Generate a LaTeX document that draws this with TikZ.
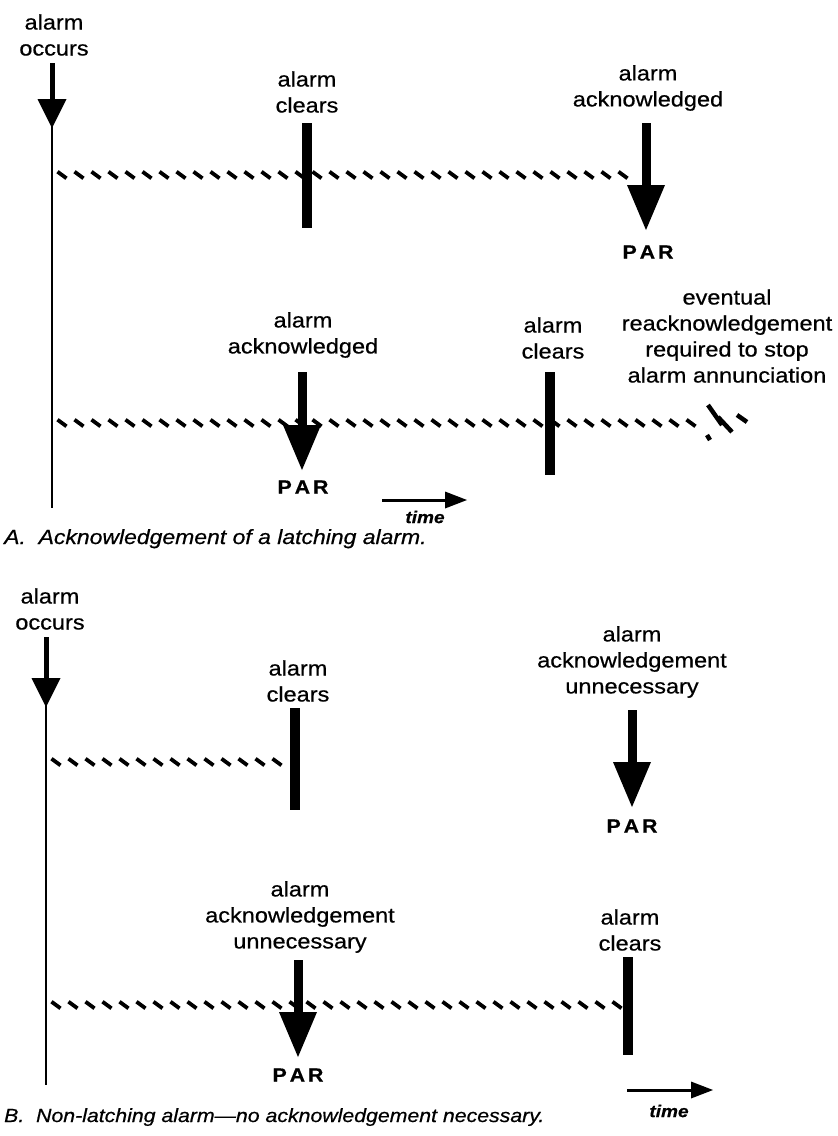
\documentclass[tikz,border=0pt]{standalone}
\usepackage{fontspec}
\setmainfont{Liberation Sans}[FakeStretch=1.12,FakeBold=0.6]
\usetikzlibrary{arrows.meta,decorations.markings,calc}
\begin{document}
\begin{tikzpicture}[x=1pt,y=-1pt,
 lbl/.style={align=center,font=\fontsize{21}{26}\selectfont,inner sep=0pt},
 parlbl/.style={font=\fontsize{19}{22}\selectfont\bfseries,inner sep=0pt},
 capt/.style={anchor=base west,inner sep=0pt},
 tlbl/.style={font=\fontsize{17}{20}\selectfont\bfseries\itshape,inner sep=0pt},
 mainline/.style={line width=2pt},
 occarrow/.style={line width=5pt,-{Triangle[width=29pt,length=29pt,line width=0pt]}},
 bigarrow/.style={line width=9pt,-{Triangle[width=38pt,length=45pt,line width=0pt]}},
 clearbar/.style={line width=10pt},
 hatch/.style={postaction={decorate},decoration={markings,
   mark=between positions 10pt and -4pt step 17pt with {\draw[line width=3.8pt] (-4.5pt,3.3pt) -- (4.5pt,-3.3pt);}}},
 endmark/.style={line width=4.5pt},
 timearrow/.style={line width=3pt,-{Triangle[width=17pt,length=22pt,line width=0pt]}},
]
\useasboundingbox (0,0) rectangle (838,1136);

% ---------------- Part A ----------------
\node[lbl] (occA) at (54,35) {alarm\\occurs};
\coordinate (occAs) at (52,63);
\coordinate (occAt) at (52,128);
\coordinate (occAb) at (52,99);
\coordinate (lineAend) at (52,508);
\draw[mainline] (occAb) -- (lineAend);
\draw[occarrow] (occAs) -- (occAt);

% row A1
\node[lbl] (clrA1) at (307,92) {alarm\\clears};
\coordinate (clrA1t) at (307,123);
\coordinate (clrA1b) at (307,228);
\draw[clearbar] (clrA1t) -- (clrA1b);

\node[lbl] (ackA1) at (648,88) {alarm\\acknowledged};
\coordinate (ackA1s) at (646,123);
\coordinate (ackA1t) at (646,230);
\node[parlbl] (parA1) at (648,252) {P\kern3pt A\kern3pt R};
\coordinate (hA1s) at (52,175);
\coordinate (hA1e) at (641,175);
\path[hatch] (hA1s) -- (hA1e);
\draw[bigarrow] (ackA1s) -- (ackA1t);

% row A2
\node[lbl] (ackA2) at (303,335) {alarm\\acknowledged};
\coordinate (ackA2s) at (302,372);
\coordinate (ackA2t) at (302,470);
\node[parlbl] (parA2) at (303,487) {P\kern3pt A\kern3pt R};

\node[lbl] (clrA2) at (553,338) {alarm\\clears};
\coordinate (clrA2t) at (550,372);
\coordinate (clrA2b) at (550,475);

\node[lbl] (evtA2) at (727,336) {eventual\\reacknowledgement\\required to stop\\alarm annunciation};
\coordinate (hA2s) at (52,423);
\coordinate (hA2e) at (702,423);
\path[hatch] (hA2s) -- (hA2e);
\draw[clearbar] (clrA2t) -- (clrA2b);
\draw[bigarrow] (ackA2s) -- (ackA2t);
% frayed end of the hatching
\draw[endmark] ($(hA2e)+(6,-18)$) -- ($(hA2e)+(20,2)$);
\draw[endmark] ($(hA2e)+(16,-6)$) -- ($(hA2e)+(30,9)$);
\draw[endmark] ($(hA2e)+(35,-8)$) -- ($(hA2e)+(45,-1)$);
\draw[endmark] ($(hA2e)+(5,12)$) -- ($(hA2e)+(8,17)$);

% time arrow A
\coordinate (tAs) at (382,500);
\coordinate (tAe) at (467,500);
\draw[timearrow] (tAs) -- (tAe);
\node[tlbl] (timeA) at (425,517) {time};

\node[capt,font=\fontsize{20.5}{24}\selectfont\itshape] (capA) at (4,544) {A.\ \ Acknowledgement of a latching alarm.};

% ---------------- Part B ----------------
\node[lbl] (occB) at (50,609) {alarm\\occurs};
\coordinate (occBs) at (46,637);
\coordinate (occBt) at (46,707);
\coordinate (occBb) at (46,678);
\coordinate (lineBend) at (46,1085);
\draw[mainline] (occBb) -- (lineBend);
\draw[occarrow] (occBs) -- (occBt);

% row B1
\node[lbl] (clrB1) at (298,681) {alarm\\clears};
\coordinate (clrB1t) at (295,708);
\coordinate (clrB1b) at (295,810);
\coordinate (hB1s) at (46,762);
\coordinate (hB1e) at (291,762);
\path[hatch] (hB1s) -- (hB1e);
\draw[clearbar] (clrB1t) -- (clrB1b);

\node[lbl] (ackB1) at (632,662) {alarm\\acknowledgement\\unnecessary};
\coordinate (ackB1s) at (632,710);
\coordinate (ackB1t) at (632,807);
\draw[bigarrow] (ackB1s) -- (ackB1t);
\node[parlbl] (parB1) at (632,826) {P\kern3pt A\kern3pt R};

% row B2
\node[lbl] (ackB2) at (300,917) {alarm\\acknowledgement\\unnecessary};
\coordinate (ackB2s) at (298,960);
\coordinate (ackB2t) at (298,1057);
\node[parlbl] (parB2) at (298,1075) {P\kern3pt A\kern3pt R};

\node[lbl] (clrB2) at (630,930) {alarm\\clears};
\coordinate (clrB2t) at (628,957);
\coordinate (clrB2b) at (628,1055);
\coordinate (hB2s) at (46,1005);
\coordinate (hB2e) at (624,1005);
\path[hatch] (hB2s) -- (hB2e);
\draw[clearbar] (clrB2t) -- (clrB2b);
\draw[bigarrow] (ackB2s) -- (ackB2t);

% time arrow B
\coordinate (tBs) at (627,1090);
\coordinate (tBe) at (713,1090);
\draw[timearrow] (tBs) -- (tBe);
\node[tlbl] (timeB) at (669,1111) {time};

\node[capt,font=\fontsize{19}{23}\selectfont\itshape] (capB) at (4,1122) {B.\ \ Non-latching alarm---no acknowledgement necessary.};
\end{tikzpicture}
\end{document}
